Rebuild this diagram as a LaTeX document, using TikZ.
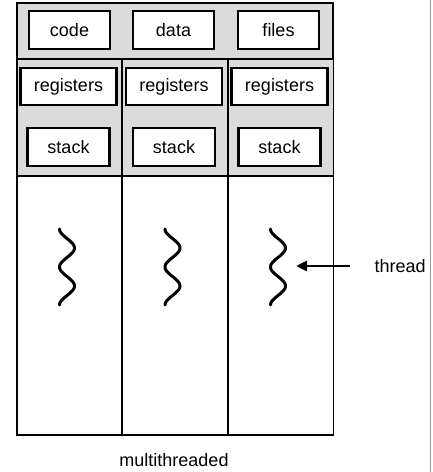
\documentclass[tikz,border=0pt]{standalone}
\usepackage{fontspec}
\setmainfont{Liberation Sans}
\usetikzlibrary{arrows.meta}

\begin{document}
\begin{tikzpicture}[
  x=1pt, y=-1pt,
  font=\fontsize{18}{20}\selectfont,
  panel/.style={
    draw=black,
    line width=1.9pt,
    fill=black!14,
    inner sep=0pt
  },
  column/.style={
    draw=black,
    line width=1.9pt,
    fill=white,
    inner sep=0pt
  },
  box/.style={
    draw=black,
    line width=2.2pt,
    fill=white,
    inner sep=0pt
  },
  wave/.style={line width=3pt, line cap=round},
  arrow/.style={-{Triangle[length=11pt,width=10pt]}, line width=2.8pt}
]

\useasboundingbox (0,0) rectangle (432,472);

% shared part of the process
\node[panel, minimum width=316, minimum height=56, anchor=north west] (shared) at (16,2) {};
\node[box, minimum width=81, minimum height=38] (code)  at (69.5,30)  {code};
\node[box, minimum width=81, minimum height=38] (data)  at (173.5,30) {data};
\node[box, minimum width=81, minimum height=38] (files) at (278.5,30) {files};

% one column per thread
\foreach \i/\left/\c in {1/16/68.5, 2/121/174, 3/227/279.5} {
  \node[column, minimum width=105.5, minimum height=376, anchor=north west] (col\i) at (\left,58) {};
  \node[panel, minimum width=105.5, minimum height=117, anchor=north west] (top\i) at (\left,58) {};
  \node[box, minimum width=96, minimum height=37] (reg\i)   at (\c,86.5) {registers};
  \node[box, minimum width=82, minimum height=38] (stack\i) at (\c,147)  {stack};
  \draw[wave] plot[domain=-90:630, samples=80] ({\c-1.5+7.5*sin(\x)}, {229+(\x+90)/720*76});
}

\coordinate (tip) at (296,266);
\node[anchor=west] (thread) at (371,266) {thread};
\draw[arrow] ([xshift=-21pt]thread.west) -- (tip);

\node (label) at (174,460) {multithreaded};

\draw[black!40, line width=1pt] (430,0) -- (430,472);

\end{tikzpicture}
\end{document}
